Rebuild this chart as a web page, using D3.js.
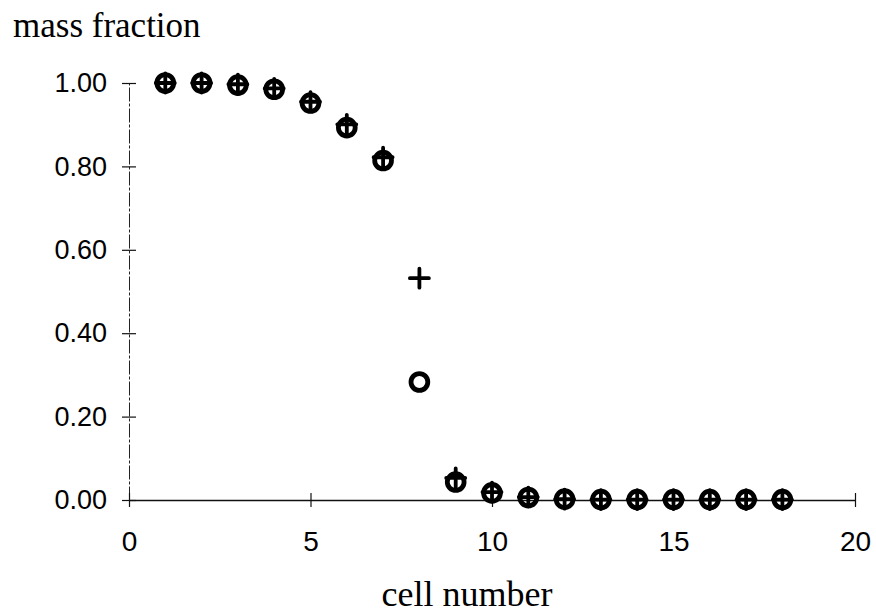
<!DOCTYPE html>
<html>
<head>
    <meta charset="utf-8">
    <script src="https://d3js.org/d3.v7.min.js"></script>
    <style>
        body { margin: 0; background: #fff; }
        svg { display: block; }
    </style>
</head>
<body>
    <div id="viz"></div>

    <script type="text/javascript">

    // cell numbers and the two mass fraction series
    var cells      = [1, 2, 3, 4, 5, 6, 7, 8, 9, 10, 11, 12, 13, 14, 15, 16, 17, 18];
    var circleVals = [1.00, 1.00, 0.995, 0.985, 0.952, 0.893, 0.814, 0.283, 0.043, 0.017, 0.006, 0.002, 0.001, 0.001, 0.001, 0.001, 0.001, 0.001];
    var plusVals   = [1.00, 1.00, 0.997, 0.987, 0.955, 0.901, 0.822, 0.532, 0.053, 0.019, 0.007, 0.002, 0.001, 0.001, 0.001, 0.001, 0.001, 0.001];
    var xTicks = [0, 5, 10, 15, 20];
    var yTicks = [0, 0.2, 0.4, 0.6, 0.8, 1.0];

    var width = 876, height = 616;

    var svg = d3.select("#viz")
        .append("svg")
        .attr("width", width)
        .attr("height", height);

    var x = d3.scaleLinear().domain([0, 20]).range([129, 855]);
    var y = d3.scaleLinear().domain([0, 1]).range([500, 83]);

    // y axis (thin, a bit broken like the scan)
    var yAxis = d3.axisLeft(y)
        .tickValues(yTicks)
        .tickFormat(d3.format(".2f"))
        .tickSize(0)
        .tickPadding(22);

    var gy = svg.append("g")
        .attr("transform", "translate(" + x(0) + ",0)")
        .call(yAxis);
    gy.select(".domain")
        .attr("stroke", "#222")
        .attr("stroke-width", 1)
        .attr("stroke-dasharray", "14,2,3,2");
    gy.selectAll(".tick").append("line")
        .attr("x1", -7).attr("x2", 7)
        .attr("stroke", "#111").attr("stroke-width", 1.2);
    gy.selectAll("text")
        .style("font-family", "'Liberation Sans', Arial, sans-serif")
        .style("font-size", "27px")
        .attr("fill", "#000");

    // x axis
    var xAxis = d3.axisBottom(x)
        .tickValues(xTicks)
        .tickSize(0)
        .tickPadding(31);

    var gx = svg.append("g")
        .attr("transform", "translate(0," + y(0) + ")")
        .call(xAxis);
    gx.select(".domain")
        .attr("stroke", "#111")
        .attr("stroke-width", 1.6);
    gx.selectAll(".tick").append("line")
        .attr("y1", -7).attr("y2", 7)
        .attr("stroke", "#111").attr("stroke-width", 1.2);
    gx.selectAll("text")
        .style("font-family", "'Liberation Sans', Arial, sans-serif")
        .style("font-size", "28px")
        .attr("fill", "#000");

    // markers
    var circles = cells.map(function(c, i){ return {c: c, v: circleVals[i]}; });
    var pluses  = cells.map(function(c, i){ return {c: c, v: plusVals[i]}; });

    svg.append("g").selectAll("circle")
        .data(circles)
        .enter().append("circle")
        .attr("cx", function(d){ return x(d.c); })
        .attr("cy", function(d){ return y(d.v); })
        .attr("r", 8.4)
        .attr("fill", "none")
        .attr("stroke", "#000")
        .attr("stroke-width", 4.8);

    var arm = 9.5;
    svg.append("g").selectAll("path")
        .data(pluses)
        .enter().append("path")
        .attr("d", function(d){
            var cx = x(d.c), cy = y(d.v);
            return "M" + (cx - arm) + "," + cy + "H" + (cx + arm) +
                   "M" + cx + "," + (cy - arm) + "V" + (cy + arm);
        })
        .attr("stroke", "#000")
        .attr("stroke-width", 3.8)
        .attr("stroke-linecap", "round")
        .attr("fill", "none");

    // axis titles
    svg.append("text")
        .attr("x", 13)
        .attr("y", 37)
        .style("font-family", "'Liberation Serif', 'Times New Roman', serif")
        .style("font-size", "35px")
        .text("mass fraction");

    svg.append("text")
        .attr("x", 467)
        .attr("y", 606)
        .attr("text-anchor", "middle")
        .style("font-family", "'Liberation Serif', 'Times New Roman', serif")
        .style("font-size", "36px")
        .text("cell number");

    </script>
</body>
</html>
